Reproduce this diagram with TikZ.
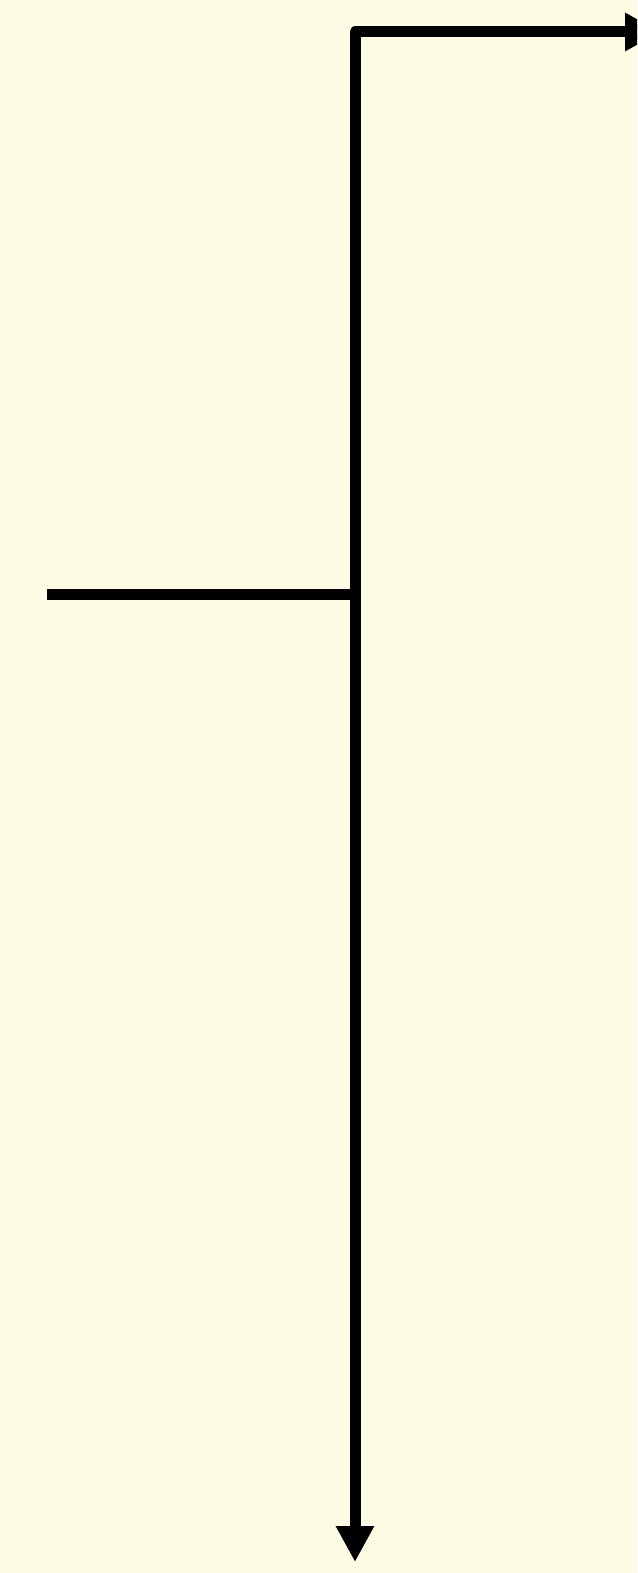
\documentclass[tikz,border=0pt]{standalone}
\usepackage{xcolor}
\usepackage{tikz}
\usetikzlibrary{arrows.meta}
\definecolor{paper}{HTML}{FEFBE5}

\begin{document}
\begin{tikzpicture}[x=1pt, y=-1pt,
  wire/.style={line width=11pt, line join=round},
  arr/.style={wire, -{Triangle[length=36pt, width=36pt]}}]
  \fill[paper] (0,0) rectangle (637,1573);
  \clip (0,0) rectangle (637,1573);
  \coordinate (in) at (47,594);
  \coordinate (tee) at (355,594);
  \coordinate (bend) at (355,32);
  \coordinate (outr) at (661,32);
  \coordinate (outd) at (355,1562);
  \draw[wire] (in) -- (tee);
  \draw[arr] (tee) -- (bend) -- (outr);
  \draw[arr] (tee) -- (outd);
\end{tikzpicture}
\end{document}
